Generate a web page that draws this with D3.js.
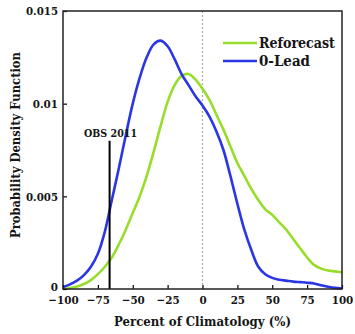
<!DOCTYPE html>
<html>
<head>
<meta charset="utf-8">
<script src="https://cdn.jsdelivr.net/npm/d3@7"></script>
<style>
  html, body { margin: 0; padding: 0; background: #fff; }
  svg text { font-family: "DejaVu Serif Condensed", "DejaVu Serif", serif; font-stretch: condensed; font-weight: bold; fill: #151515; }
</style>
</head>
<body>
<svg id="chart" width="355" height="334"></svg>
<script>
// Percent of climatology (x) and probability density for each forecast set
const percent = [-100,-95,-90,-85,-80,-75,-70,-65,-60,-55,-50,-45,-40,-35,-30,-25,-20,-15,-10,-5,0,
                 5,10,15,20,25,30,35,40,45,50,55,60,65,70,75,80,85,90,95,100];
const reforecast = [0.0000,0.00005,0.00013,0.00027,0.00048,0.0008,0.0012,0.0017,0.0024,0.0032,0.0041,
                    0.0050,0.0061,0.0074,0.0088,0.0101,0.0110,0.0115,0.0116,0.0113,0.0108,
                    0.0102,0.0094,0.0086,0.0077,0.0068,0.0061,0.0054,0.0048,0.0043,0.0040,
                    0.0036,0.0032,0.0027,0.0022,0.0017,0.0013,0.0011,0.0010,0.00095,0.0009];
const lead0 = [0.0001,0.00025,0.00045,0.00075,0.0012,0.0019,0.0031,0.0048,0.0065,0.0083,0.0100,
               0.0114,0.0125,0.0132,0.0134,0.0131,0.0124,0.0116,0.0110,0.0104,0.0099,
               0.0093,0.0085,0.0075,0.0061,0.0046,0.0032,0.0021,0.0012,0.0008,0.0006,
               0.0005,0.00045,0.0004,0.00037,0.00034,0.0003,0.0002,0.00012,0.00006,0.00003];
const seriesNames = ["Reforecast", "0-Lead"];
const seriesColors = ["#98dc2c", "#2a35e6"];
const xTicks = [-100,-75,-50,-25,0,25,50,75,100];
const yTicks = [0, 0.005, 0.01, 0.015];
const yTickLabels = ["0", "0.005", "0.01", "0.015"];
const obsValue = -66.6, obsTop = 0.0080, obsLabel = "OBS 2011";

const svg = d3.select("#chart");
const m = { left: 63, right: 13, top: 11, bottom: 45 };
const W = 355, H = 334;
const x = d3.scaleLinear().domain([-100, 100]).range([m.left, W - m.right]);
const y = d3.scaleLinear().domain([0, 0.015]).range([H - m.bottom, m.top]);

// scale a text node's font size so that it spans the given width
function fitWidth(sel, width) {
  sel.each(function () {
    const fs = parseFloat(this.getAttribute("font-size")) || 11;
    const len = this.getComputedTextLength();
    if (len > 0) this.setAttribute("font-size", (fs * width / len).toFixed(2));
  });
}

// zero reference line
svg.append("line")
  .attr("x1", x(0)).attr("x2", x(0)).attr("y1", y(0.015)).attr("y2", y(0))
  .attr("stroke", "#aaa").attr("stroke-width", 1.2).attr("stroke-dasharray", "2,2");

// density curves
const line = d3.line().x((d, i) => x(percent[i])).y(d => y(d)).curve(d3.curveCatmullRom.alpha(0.5));
[reforecast, lead0].forEach((vals, k) => {
  svg.append("path").datum(vals)
    .attr("d", line).attr("fill", "none")
    .attr("stroke", seriesColors[k]).attr("stroke-width", 2.6)
    .attr("stroke-linejoin", "round");
});

// observed value marker
svg.append("line")
  .attr("x1", x(obsValue)).attr("x2", x(obsValue)).attr("y1", y(obsTop)).attr("y2", y(0))
  .attr("stroke", "#000").attr("stroke-width", 2);
svg.append("text").attr("x", 84).attr("y", y(obsTop) - 4)
  .attr("font-size", 10).text(obsLabel).call(fitWidth, 53);

// axes with inward ticks
const xAxis = svg.append("g").attr("transform", `translate(0,${y(0)})`)
  .call(d3.axisBottom(x).tickValues(xTicks).tickSize(-4).tickPadding(6)
    .tickFormat(d => d < 0 ? "\u2212" + Math.abs(d) : d));
const yAxis = svg.append("g").attr("transform", `translate(${x(-100)},0)`)
  .call(d3.axisLeft(y).tickValues(yTicks).tickSize(-4).tickPadding(5)
    .tickFormat((d, i) => yTickLabels[i]));
[xAxis, yAxis].forEach(g => {
  g.select(".domain").remove();
  g.selectAll("line").attr("stroke", "#000").attr("stroke-width", 1.2);
  g.selectAll("text").attr("fill", "#151515").attr("font-size", 11.5)
    .style("font-family", "'DejaVu Serif Condensed', 'DejaVu Serif', serif")
    .style("font-stretch", "condensed").style("font-weight", "bold");
});
xAxis.selectAll("text").attr("dy", null).attr("y", 15);
yAxis.selectAll("text").attr("dy", "0.35em");
// keep the zero label clear of the x labels below it
yAxis.selectAll("text").filter(d => d === 0).attr("y", -3);
yAxis.selectAll("text").filter(d => d === 0.015).call(fitWidth, 32);
yAxis.selectAll("text").filter(d => d === 0.005).call(fitWidth, 32);

// frame
svg.append("rect")
  .attr("x", x(-100)).attr("y", y(0.015))
  .attr("width", x(100) - x(-100)).attr("height", y(0) - y(0.015))
  .attr("fill", "none").attr("stroke", "#222").attr("stroke-width", 1.5);

// axis titles
svg.append("text").attr("x", (x(-100) + x(100)) / 2).attr("y", 326)
  .attr("text-anchor", "middle").attr("font-size", 11).text("Percent of Climatology (%)")
  .call(fitWidth, 177);
svg.append("text").attr("transform", `translate(20,${(y(0) + y(0.015)) / 2 - 5}) rotate(-90)`)
  .attr("text-anchor", "middle").attr("font-size", 11).text("Probability Density Function")
  .call(fitWidth, 186);

// legend
const leg = svg.append("g");
seriesNames.forEach((name, k) => {
  const ly = 43 + k * 18;
  leg.append("line").attr("x1", 223).attr("x2", 257).attr("y1", ly).attr("y2", ly)
    .attr("stroke", seriesColors[k]).attr("stroke-width", 2.6);
  leg.append("text").attr("x", 259).attr("y", ly + 4.5).attr("font-size", 12)
    .text(name).call(fitWidth, k === 0 ? 76 : 51);
});
</script>
</body>
</html>
